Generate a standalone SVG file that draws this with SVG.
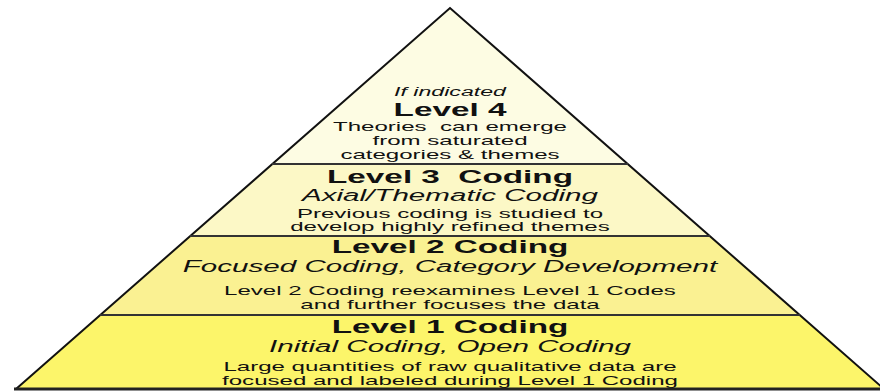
<svg xmlns="http://www.w3.org/2000/svg" width="880" height="392" viewBox="0 0 880 392">
<style>
.edge{stroke:#111;stroke-width:2;stroke-linejoin:miter}
.div{stroke:#333;stroke-width:2.2;fill:none}
text{font-family:"Liberation Sans",Arial,sans-serif;fill:#111;text-anchor:middle}
.t{font-weight:bold;font-size:18px}
.s{font-style:italic;font-size:16px}
.b{font-size:13px}
.i{font-style:italic;font-size:12.5px}
</style>
<rect width="880" height="392" fill="#ffffff"/>
<g id="level4">
<polygon points="450,8 272,164 628,164" fill="#fdfce3"/>
</g>
<g id="level3">
<polygon points="272,164 628,164 710,236 190,236" fill="#fcf8c6"/>
</g>
<g id="level2">
<polygon points="190,236 710,236 800,315 100,315" fill="#faf192"/>
</g>
<g id="level1">
<polygon points="100,315 800,315 884,389 16,389" fill="#fcf56a"/>
</g>
<g id="connectors">
<polyline class="edge" fill="none" points="16,389 450,8 884,389"/>
<line class="div" x1="272" y1="164" x2="628" y2="164"/>
<line class="div" x1="190" y1="236" x2="710" y2="236"/>
<line class="div" x1="100" y1="315" x2="800" y2="315"/>
<line x1="14" y1="389" x2="880" y2="389" stroke="#222" stroke-width="3"/>
</g>
<g id="labels" transform="translate(-382.5,0) scale(1.85,1)">
<text class="i" x="450" y="96">If indicated</text>
<text class="t" x="450" y="116">Level 4</text>
<text class="b" x="450" y="131" xml:space="preserve">Theories  can emerge</text>
<text class="b" x="450" y="145">from saturated</text>
<text class="b" x="450" y="159">categories &amp; themes</text>
<text class="t" x="450" y="183" xml:space="preserve">Level 3  Coding</text>
<text class="s" x="450" y="201">Axial/Thematic Coding</text>
<text class="b" x="450" y="218">Previous coding is studied to</text>
<text class="b" x="450" y="231">develop highly refined themes</text>
<text class="t" x="450" y="253">Level 2 Coding</text>
<text class="s" x="450" y="272">Focused Coding, Category Development</text>
<text class="b" x="450" y="295">Level 2 Coding reexamines Level 1 Codes</text>
<text class="b" x="450" y="309">and further focuses the data</text>
<text class="t" x="450" y="333">Level 1 Coding</text>
<text class="s" x="450" y="352">Initial Coding, Open Coding</text>
<text class="b" x="450" y="371">Large quantities of raw qualitative data are</text>
<text class="b" x="450" y="385">focused and labeled during Level 1 Coding</text>
</g>
</svg>
